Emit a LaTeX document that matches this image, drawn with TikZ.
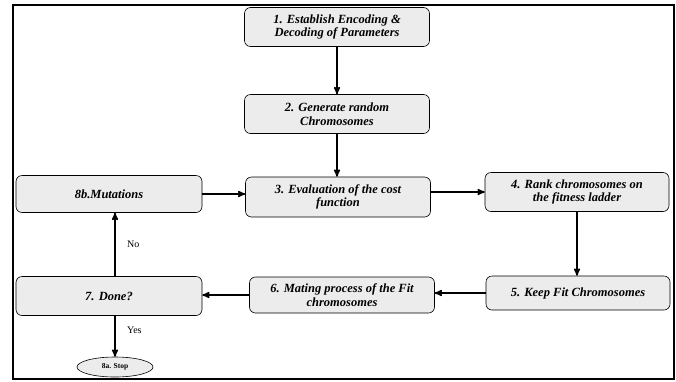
\documentclass[tikz,border=0pt]{standalone}
\usepackage{fontspec}
\setmainfont{Liberation Serif}
\usetikzlibrary{positioning}
\usetikzlibrary{arrows}
\usetikzlibrary{shapes.geometric}

\begin{document}
\begin{tikzpicture}[x=1pt,y=-1pt,>=stealth',auto,line width=1.5pt,
                    proc node/.style={rectangle,rounded corners=6pt,draw,line width=0.6pt,fill=gray!15,
                      minimum width=185pt,minimum height=39pt,align=center,
                      font=\bfseries\itshape\fontsize{12.5}{13.5}\selectfont},
                    stop node/.style={ellipse,draw,line width=0.6pt,fill=gray!15,minimum width=76pt,
                      minimum height=20pt,inner sep=0pt,font=\bfseries\fontsize{7.5}{8}\selectfont}]
\useasboundingbox (0,0) rectangle (676,381);
\draw[line width=1.6pt] (13,5) rectangle (674,379);

\node[proc node] (est) at (337,27) {1. Establish Encoding \&\\Decoding of Parameters};
\node[proc node] (gen) at (337,114) {2. Generate random\\Chromosomes};
\node[proc node, minimum height=40pt] (eval) at (338,197) {3. Evaluation of the cost\\function};
\node[proc node, minimum width=184pt] (rank) at (577,192) {4. Rank chromosomes on\\the fitness ladder};
\node[proc node, minimum width=184pt, minimum height=34pt] (keep) at (578,293) {5. Keep Fit Chromosomes};
\node[proc node, minimum height=36pt] (mate) at (342,295) {6. Mating process of the Fit\\chromosomes};
\node[proc node, minimum width=186pt] (done) at (109,296) {7. Done?};
\node[proc node, minimum width=186pt, minimum height=37pt] (mut) at (109,194) {8b.Mutations};
\node[stop node] (stop) at (115,367) {8a. Stop};

\path[->]
  (est) edge (gen)
  (gen) edge (gen |- eval.north)
  (rank.west -| eval.east) edge (rank.west)
  (rank) edge (rank |- keep.north)
  (keep.west) edge (keep.west -| mate.east)
  (mate.west) edge (mate.west -| done.east)
  (mut.east) edge (mut.east -| eval.west);
\path[->]
  (done.north -| stop) edge node[font=\fontsize{10}{11}\selectfont, right=8pt] {No} (mut.south -| stop)
  (done.south -| stop) edge node[font=\fontsize{10}{11}\selectfont, right=8pt, pos=0.35] {Yes} (stop);
\end{tikzpicture}
\end{document}
